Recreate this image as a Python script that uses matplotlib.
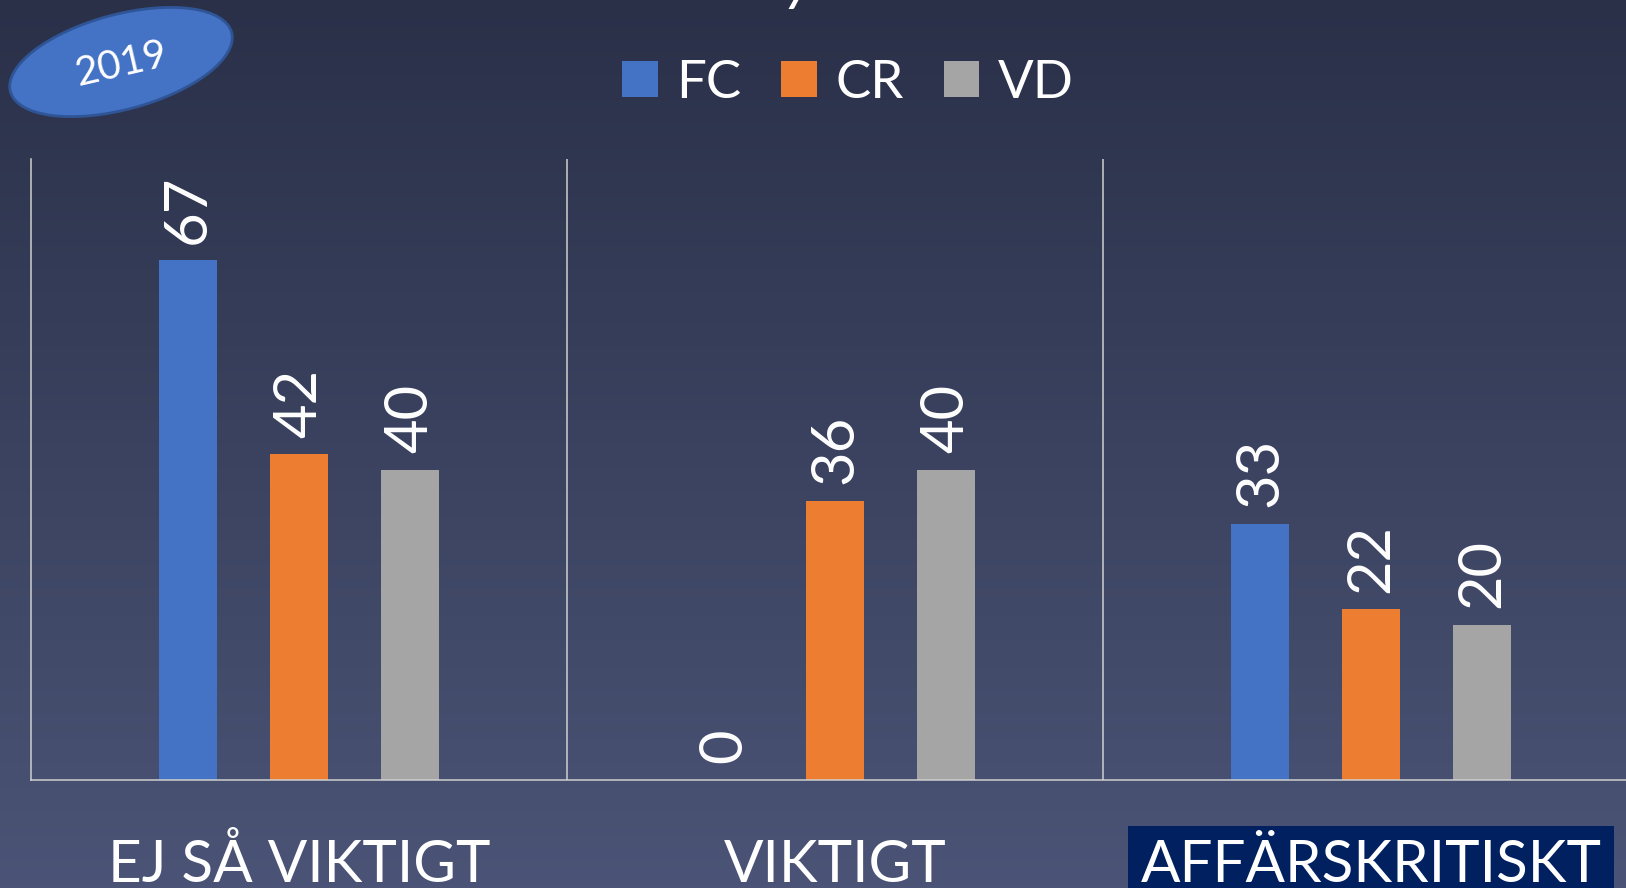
import numpy as np
import matplotlib
matplotlib.use("Agg")
import matplotlib.pyplot as plt
from matplotlib.patches import Ellipse
from matplotlib.colors import LinearSegmentedColormap

# ---- data ----
categories = ["EJ SÅ VIKTIGT", "VIKTIGT", "AFFÄRSKRITISKT"]
series_names = ["FC", "CR", "VD"]
fc_values = [67, 0, 33]
cr_values = [42, 36, 22]
vd_values = [40, 40, 20]
series_values = [fc_values, cr_values, vd_values]
series_colors = ["#4472C4", "#ED7D31", "#A5A5A5"]
badge_text = "2019"

W, H = 1626, 888
plt.rcParams['font.family'] = ['Lato', 'DejaVu Sans']
fig = plt.figure(figsize=(W / 100, H / 100), dpi=100)

# background
bg = fig.add_axes([0, 0, 1, 1], zorder=0)
bg.set_xlim(0, W)
bg.set_ylim(H, 0)
bg.axis('off')
grad = np.linspace(0, 1, 256).reshape(-1, 1)
cmap = LinearSegmentedColormap.from_list('bg', ['#2A3048', '#4B5476'])
bg.imshow(grad, extent=[0, W, H, 0], aspect='auto', cmap=cmap, zorder=0)

# badge
bg.add_patch(Ellipse((121, 62), 229, 95, angle=-15, facecolor='#4472C4',
                     edgecolor='#2F5597', linewidth=2, zorder=2))
bg.text(121, 64, badge_text, rotation=13, rotation_mode='anchor', ha='center',
        va='center', fontsize=29, color='white', zorder=3)
# descender of the cut-off title
bg.text(799, -1, "y", ha='center', va='baseline', fontsize=44, color='white',
        style='italic', zorder=3)

# main chart
ax = fig.add_axes([31 / W, 1 - 780 / H, (W - 31) / W, (780 - 159.4) / H], zorder=1)
ax.patch.set_alpha(0)
x = np.arange(len(categories))
offsets = [-0.207, 0.0, 0.207]
width = 0.108
for i, (name, vals, col) in enumerate(zip(series_names, series_values, series_colors)):
    bars = ax.bar(x + offsets[i], vals, width, color=col, label=name, zorder=2)
    for b, v in zip(bars, vals):
        ax.annotate(str(v), (b.get_x() + b.get_width() / 2, v), xytext=(0, 12),
                    textcoords='offset points', rotation=90, ha='center', va='bottom',
                    color='white', fontsize=43)

ax.set_xlim(-0.5, -0.5 + (W - 31) / 536)
ax.set_ylim(0, 80)
for s in ['top', 'right']:
    ax.spines[s].set_visible(False)
for s in ['left', 'bottom']:
    ax.spines[s].set_color('#D0D0D0')
    ax.spines[s].set_linewidth(1.1)
for bnd in x[:-1] + 0.5:
    ax.axvline(bnd, color='#D0D0D0', lw=1.1, zorder=1)
ax.set_xticks([])
ax.set_yticks([])

labels = []
for xi, cat in zip(x, categories):
    t = ax.annotate(cat, (xi, 0), xycoords=('data', 'axes fraction'),
                    xytext=(0, -102 * 0.72), textcoords='offset points',
                    ha='center', va='baseline', fontsize=42, color='white',
                    annotation_clip=False)
    labels.append(t)
labels[-1].set_bbox(dict(boxstyle='square,pad=0.22', facecolor='#002060', edgecolor='none'))

ax.legend(loc='center', bbox_to_anchor=(848 / W, 1 - 83 / H), bbox_transform=fig.transFigure,
          ncol=3, frameon=False, fontsize=38, handlelength=0.68, handleheight=0.7,
          handletextpad=0.35, columnspacing=0.75, labelcolor='white',
          borderaxespad=0, borderpad=0)

fig.savefig('out.png', dpi=100)
